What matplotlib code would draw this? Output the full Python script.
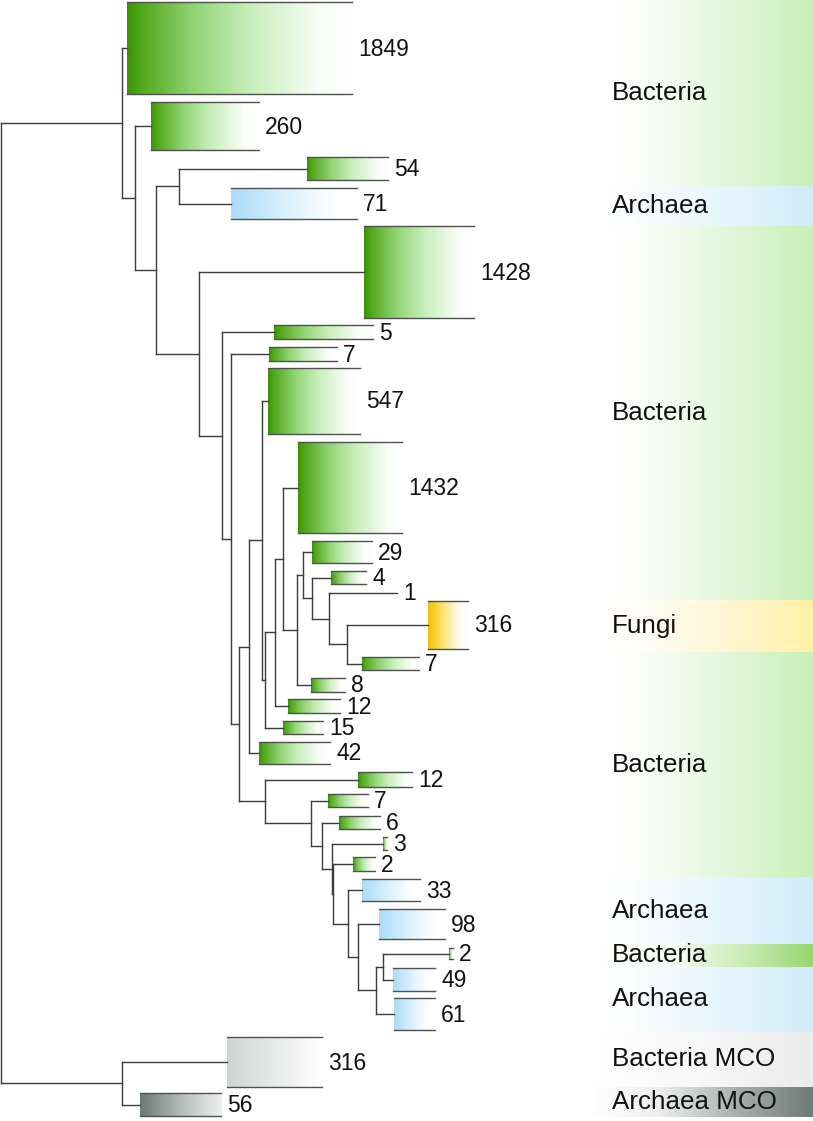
import numpy as np
import matplotlib.pyplot as plt
from matplotlib.colors import LinearSegmentedColormap

plt.rcParams['font.family'] = ['Liberation Sans', 'DejaVu Sans']

W, H = 813, 1121

# collapsed clades (pixel units of the original figure)
clade_ids = ['c1849', 'c260', 'c54', 'c71', 'c1428', 'c5', 'c7a', 'c547', 'c1432', 'c29',
             'c4', 'l1', 'c316f', 'c7c', 'c8', 'c12a', 'c15', 'c42', 'c12b', 'c7b',
             'c6', 'c3', 'c2a', 'c33', 'c98', 'c2b', 'c49', 'c61', 'c316m', 'c56']
clade_labels = ['1849', '260', '54', '71', '1428', '5', '7', '547', '1432', '29',
                '4', '1', '316', '7', '8', '12', '15', '42', '12', '7',
                '6', '3', '2', '33', '98', '2', '49', '61', '316', '56']
clade_x0 = [127, 151, 307, 231, 364, 274, 269, 268, 298, 312,
            331, 397, 428, 362, 311, 288, 283, 259, 358, 328,
            339, 383, 353, 362, 379, 449, 393, 394, 227, 140]
clade_x1 = [352, 259, 388, 357, 474, 373, 337, 360, 402, 372,
            366, 397, 468, 419, 345, 340, 323, 330, 412, 368,
            380, 387, 375, 420, 445, 453, 435, 435, 322, 221]
clade_y0 = [2, 102, 157, 188, 226, 325, 347, 368, 442, 541,
            571, 593, 601, 657, 678, 699, 721, 742, 772, 794,
            816, 837, 857, 879, 909, 948, 968, 998, 1037, 1093]
clade_y1 = [94, 150, 180, 219, 318, 339, 361, 434, 533, 563,
            584, 593, 649, 670, 692, 713, 734, 764, 787, 807,
            829, 850, 871, 901, 939, 959, 991, 1030, 1087, 1116]
clade_group = ['bac', 'bac', 'bac', 'arc', 'bac', 'bac', 'bac', 'bac', 'bac', 'bac',
               'bac', 'none', 'fun', 'bac', 'bac', 'bac', 'bac', 'bac', 'bac', 'bac',
               'bac', 'bac', 'bac', 'arc', 'arc', 'bac', 'arc', 'arc', 'mco_b', 'mco_a']

# internal nodes: depth and children (top to bottom)
node_ids = ['R', 'N1', 'N2', 'N3', 'N4', 'N5', 'N6', 'N7', 'N8', 'N9', 'N11', 'N12', 'N13',
            'N14', 'N15', 'N16', 'N17', 'N18', 'N19', 'N10', 'N20', 'N21', 'N22', 'N23',
            'N24', 'N25', 'N26', 'N27', 'NM']
node_x = [1, 122, 135, 156, 179, 199, 222, 231, 239, 249, 262, 265, 275,
          283, 297, 303, 312, 329, 347, 265, 311, 322, 332, 333,
          348, 358, 376, 383, 122]
node_kids = [['N1', 'NM'], ['c1849', 'N2'], ['c260', 'N3'], ['N4', 'N5'], ['c54', 'c71'],
             ['c1428', 'N6'], ['c5', 'N7'], ['c7a', 'N8'], ['N9', 'N10'], ['N11', 'c42'],
             ['c547', 'N12'], ['N13', 'c15'], ['N14', 'c12a'], ['c1432', 'N15'],
             ['N16', 'c8'], ['c29', 'N17'], ['c4', 'N18'], ['l1', 'N19'], ['c316f', 'c7c'],
             ['c12b', 'N20'], ['c7b', 'N21'], ['c6', 'N22'], ['c3', 'N23'], ['c2a', 'N24'],
             ['c33', 'N25'], ['c98', 'N26'], ['N27', 'c61'], ['c2b', 'c49'],
             ['c316m', 'c56']]

# right-hand group bands
band_labels = ['Bacteria', 'Archaea', 'Bacteria', 'Fungi', 'Bacteria', 'Archaea',
               'Bacteria', 'Archaea', 'Bacteria MCO', 'Archaea MCO']
band_y0 = [0, 186, 226, 600, 652, 877, 944, 967, 1032, 1087]
band_y1 = [186, 226, 600, 652, 877, 944, 967, 1032, 1087, 1117]
band_group = ['bac', 'arc', 'bac', 'fun', 'bac', 'arc', 'bac2', 'arc', 'mco_b', 'mco_a']

clade_cmaps = {
    'bac': [(0, '#3a9400'), (0.06, '#52a81c'), (0.3, '#92d575'), (0.55, '#c9eebc'),
            (0.85, '#f8fdf6'), (1, '#ffffff')],
    'arc': [(0, '#aadcf8'), (0.45, '#dcf1fc'), (0.85, '#ffffff'), (1, '#ffffff')],
    'fun': [(0, '#f4be00'), (0.35, '#fbe36a'), (0.75, '#fffbe8'), (1, '#ffffff')],
    'mco_b': [(0, '#cfd5d2'), (0.6, '#eceeed'), (1, '#ffffff')],
    'mco_a': [(0, '#6b7873'), (0.5, '#b4bcb8'), (1, '#eef0ef')],
}
band_cmaps = {
    'bac': [(0, '#ffffff'), (0.2, '#fdfefc'), (0.6, '#e4f7dc'), (1, '#c9efb8')],
    'arc': [(0, '#ffffff'), (0.2, '#fbfdfe'), (0.6, '#e6f5fc'), (1, '#d2ecf9')],
    'fun': [(0, '#ffffff'), (0.2, '#fffefa'), (0.6, '#fff7d4'), (1, '#fff0a8')],
    'bac2': [(0, '#ffffff'), (0.4, '#f4fbf0'), (0.7, '#c8ebb4'), (1, '#96d66e')],
    'mco_b': [(0, '#ffffff'), (0.5, '#f8f8f8'), (1, '#ebebeb')],
    'mco_a': [(0, '#ffffff'), (0.3, '#eef0ef'), (0.65, '#a9b1ae'), (1, '#6f7b77')],
}

line_col = '#3c3c3c'
grad = np.linspace(0, 1, 256)[np.newaxis, :]

fig = plt.figure(figsize=(W / 100, H / 100), dpi=100)
ax = fig.add_axes([0, 0, 1, 1])

# background bands
for lab, y0, y1, g in zip(band_labels, band_y0, band_y1, band_group):
    cm = LinearSegmentedColormap.from_list(g, band_cmaps[g])
    ax.imshow(grad, cmap=cm, extent=(590, W, y1, y0), aspect='auto',
              interpolation='bilinear', zorder=0)
    ax.text(612, (y0 + y1) / 2, lab, fontsize=18.7, va='center', ha='left',
            color='#111111', zorder=5)

# clade y centres, then node y centres
ypos = {}
for cid, y0, y1 in zip(clade_ids, clade_y0, clade_y1):
    ypos[cid] = (y0 + y1) / 2
xpos = dict(zip(clade_ids, clade_x0))
xpos.update(dict(zip(node_ids, node_x)))
kids = dict(zip(node_ids, node_kids))


def node_y(n):
    if n in ypos:
        return ypos[n]
    ys = [node_y(k) for k in kids[n]]
    ypos[n] = (ys[0] + ys[-1]) / 2
    return ypos[n]


node_y('R')

for n, x in zip(node_ids, node_x):
    ys = [ypos[k] for k in kids[n]]
    ax.plot([x, x], [ys[0], ys[-1]], color=line_col, lw=1.0, zorder=3,
            solid_capstyle='projecting')
    for k in kids[n]:
        ax.plot([x, xpos[k]], [ypos[k], ypos[k]], color=line_col, lw=1.0, zorder=3,
                solid_capstyle='projecting')

# collapsed clades
for lab, x0, x1, y0, y1, g in zip(clade_labels, clade_x0, clade_x1,
                                  clade_y0, clade_y1, clade_group):
    if g != 'none':
        cm = LinearSegmentedColormap.from_list(g, clade_cmaps[g])
        ax.imshow(grad, cmap=cm, extent=(x0, x1, y1, y0), aspect='auto',
                  interpolation='bilinear', zorder=2)
        ax.plot([x0, x1], [y0, y0], color='#505050', lw=1.0, zorder=3)
        ax.plot([x0, x1], [y1, y1], color='#505050', lw=1.0, zorder=3)
    ax.text(x1 + 6, (y0 + y1) / 2 + 1, lab, fontsize=16.5, va='center', ha='left',
            color='#111111', zorder=5)

ax.set_xlim(0, W)
ax.set_ylim(H, 0)
ax.axis('off')
fig.savefig('out.png', dpi=100, facecolor='white')
